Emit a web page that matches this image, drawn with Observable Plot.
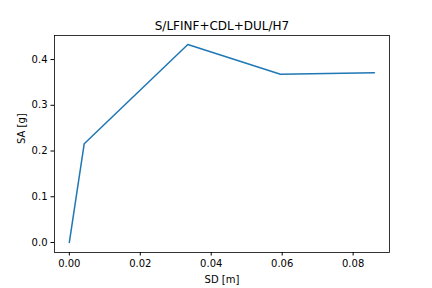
<!DOCTYPE html>
<html>
<head>
<meta charset="utf-8">
<script src="https://cdn.jsdelivr.net/npm/d3@7"></script>
<script src="https://cdn.jsdelivr.net/npm/@observablehq/plot@0.6"></script>
<style>
  html, body { margin: 0; padding: 0; background: #fff; }
  svg { display: block; }
</style>
</head>
<body>
<div id="chart"></div>
<script>
const title = "S/LFINF+CDL+DUL/H7";
const xLabel = "SD [m]";
const yLabel = "SA [g]";
const sd = [0, 0.0042, 0.0334, 0.0595, 0.0860];
const sa = [0, 0.216, 0.433, 0.368, 0.371];
const xTicks = [0, 0.02, 0.04, 0.06, 0.08];
const yTicks = [0, 0.1, 0.2, 0.3, 0.4];

const data = sd.map((x, i) => ({x, y: sa[i]}));

const chart = Plot.plot({
  width: 432,
  height: 288,
  marginLeft: 54,
  marginRight: 43,
  marginTop: 35,
  marginBottom: 36,
  style: {fontFamily: "DejaVu Sans", fontSize: "10px", color: "#000", background: "#fff"},
  x: {domain: [-0.00418, 0.09025]},
  y: {domain: [-0.0219, 0.4526]},
  marks: [
    Plot.axisX({ticks: xTicks, tickFormat: d3.format(".2f"), tickSize: 3.5, tickPadding: 3.5, label: null, fontSize: 10, stroke: "#000"}),
    Plot.axisY({ticks: yTicks, tickFormat: d3.format(".1f"), tickSize: 3.5, tickPadding: 3.5, label: null, fontSize: 10, stroke: "#000"}),
    Plot.line(data, {x: "x", y: "y", stroke: "#1f77b4", strokeWidth: 1.5}),
    Plot.frame({stroke: "#000", strokeWidth: 0.8}),
    Plot.text([title], {text: d => d, frameAnchor: "top", lineAnchor: "middle", dy: -9, fontSize: 12, fill: "#000"}),
    Plot.text([xLabel], {text: d => d, frameAnchor: "bottom", lineAnchor: "middle", dy: 27, fontSize: 10, fill: "#000"}),
    Plot.text([yLabel], {text: d => d, frameAnchor: "left", lineAnchor: "middle", dx: -33, rotate: -90, fontSize: 10, fill: "#000"})
  ]
});
document.getElementById("chart").appendChild(chart);
</script>
</body>
</html>
